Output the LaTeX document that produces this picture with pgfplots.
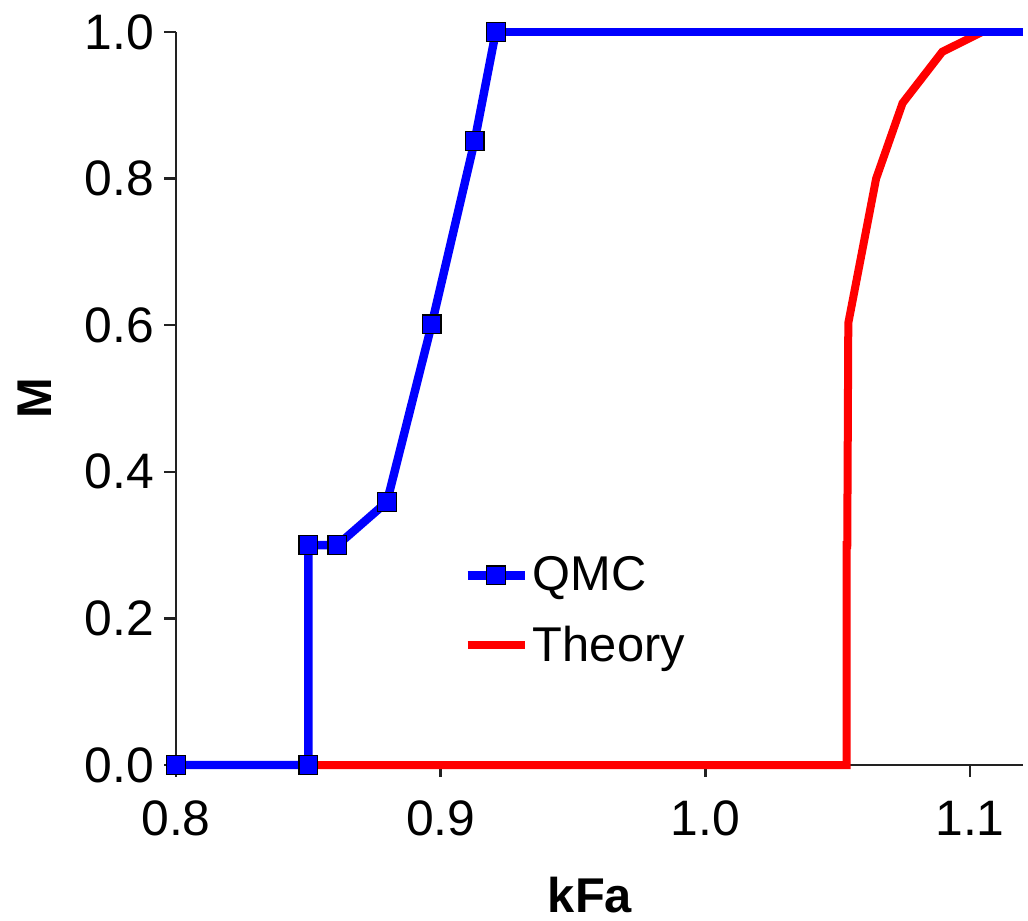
\documentclass[border=0pt]{standalone}
\usepackage{fontspec}
\setmainfont{Liberation Sans}
\usepackage{pgfplots}
\pgfplotsset{compat=1.18}
\definecolor{qmcblue}{RGB}{0,0,255}
\definecolor{thred}{RGB}{255,0,0}
\definecolor{axgray}{RGB}{34,34,34}
\begin{document}
\begin{tikzpicture}
\begin{axis}[
  scale only axis,
  width=423.5bp, height=366.5bp,
  xmin=0.8, xmax=1.12, ymin=0, ymax=1,
  axis lines=left,
  axis line style={-},
  x axis line style={draw=axgray, line width=1.2bp},
  y axis line style={draw=axgray, line width=1.2bp},
  xtick={0.8,0.9,1.0,1.1},
  ytick={0,0.2,0.4,0.6,0.8,1.0},
  major tick length=0pt,
  /pgf/number format/assume math mode=true,
  xticklabel style={yshift=-14.5bp, /pgf/number format/.cd, fixed, fixed zerofill, precision=1},
  yticklabel style={xshift=-7.5bp, /pgf/number format/.cd, fixed, fixed zerofill, precision=1},
  ticklabel style={font=\fontsize{25}{30}\selectfont},
  xlabel={\textbf{kFa}},
  ylabel={\textbf{M}},
  label style={font=\fontsize{24.5}{28}\selectfont},
  xlabel style={at={(0.489,0)}, anchor=north, yshift=-52.5bp},
  ylabel style={at={(0,0.5)}, anchor=south, yshift=58.5bp},
  clip=false,
  reverse legend,
  legend style={draw=none, fill=none, at={(0.339,0.29)}, anchor=north west,
    font=\fontsize{24.5}{28}\selectfont, inner sep=0pt, row sep=12bp,
    nodes={inner sep=2bp}},
  legend cell align=left,
  legend image code/.code={\draw[mark repeat=2,mark phase=2,#1] plot coordinates {(0bp,0bp) (14.25bp,0bp) (28.5bp,0bp)};},
]
\pgfplotsinvokeforeach{0.8,0.9,1.0,1.1}{\draw[axgray, line width=1.2bp] (axis cs:#1,0) -- (axis cs:#1,-0.0164);}
\pgfplotsinvokeforeach{0,0.2,0.4,0.6,0.8,1.0}{\draw[axgray, line width=1.2bp] (axis cs:0.8,#1) -- (axis cs:0.79547,#1);}
\addplot[color=thred, line width=4bp, line join=miter] coordinates {
(0.85,0) (1.0534,0) (1.0534,0.3) (1.0536,0.3) (1.0540,0.603) (1.0645,0.80) (1.0745,0.903) (1.0895,0.973) (1.1045,1.0)
};
\addlegendentry{Theory}
\addplot[color=qmcblue, line width=4.2bp, mark=square*,
  mark size=4.7bp, mark options={fill=qmcblue, draw=black, line width=0.6bp}] coordinates {
(0.8,0) (0.85,0) (0.85,0.30) (0.861,0.30) (0.8797,0.359) (0.8966,0.601) (0.9128,0.851) (0.9208,1.0)
};
\addlegendentry{QMC}
\addplot[color=qmcblue, line width=4.2bp, forget plot] coordinates {(0.9208,1.0) (1.12,1.0)};
\path (rel axis cs:-0.2078,-0.2115) (rel axis cs:1.0059,1.0437);
\end{axis}
\end{tikzpicture}
\end{document}
